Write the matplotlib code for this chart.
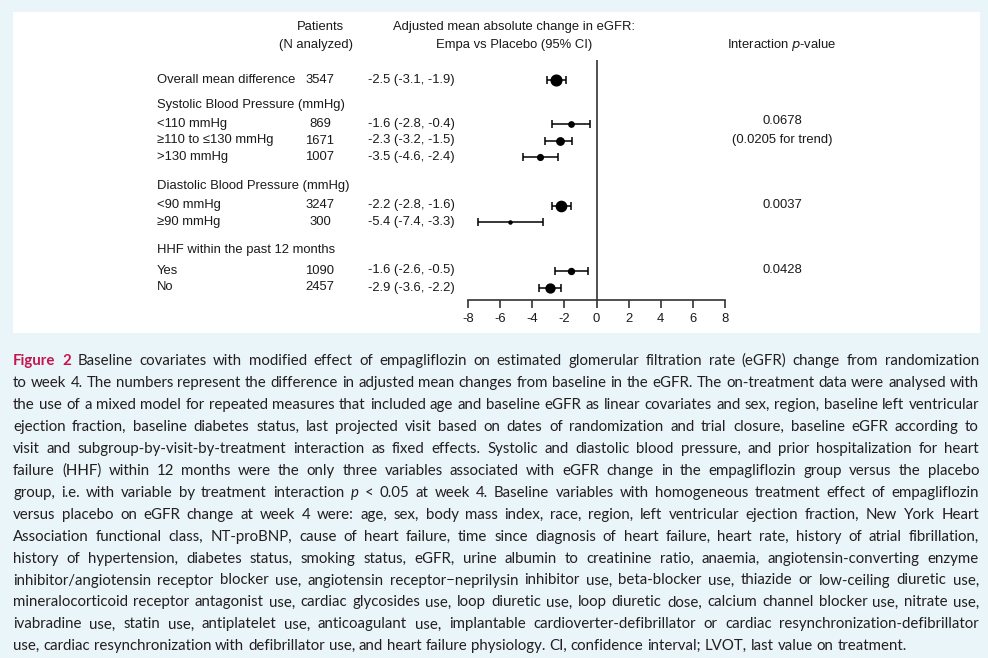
import matplotlib
matplotlib.use("Agg")
import matplotlib.pyplot as plt
from matplotlib.patches import Rectangle
import numpy as np

plt.rcParams["axes.unicode_minus"] = False

# data
row_labels = ["Overall mean difference", "<110 mmHg", "≥110 to ≤130 mmHg", ">130 mmHg",
              "<90 mmHg", "≥90 mmHg", "Yes", "No"]
n_analyzed = [3547, 869, 1671, 1007, 3247, 300, 1090, 2457]
estimate = [-2.5, -1.6, -2.3, -3.5, -2.2, -5.4, -1.6, -2.9]
ci_low = [-3.1, -2.8, -3.2, -4.6, -2.8, -7.4, -2.6, -3.6]
ci_high = [-1.9, -0.4, -1.5, -2.4, -1.6, -3.3, -0.5, -2.2]
group_headers = ["Systolic Blood Pressure (mmHg)", "Diastolic Blood Pressure (mmHg)",
                 "HHF within the past 12 months"]
p_values = ["0.0678", "0.0037", "0.0428"]
trend_note = "(0.0205 for trend)"
xticks = [-8, -6, -4, -2, 0, 2, 4, 6, 8]

caption_lines = [
    "Figure 2 Baseline covariates with modified effect of empagliflozin on estimated glomerular filtration rate (eGFR) change from randomization",
    "to week 4. The numbers represent the difference in adjusted mean changes from baseline in the eGFR. The on-treatment data were analysed with",
    "the use of a mixed model for repeated measures that included age and baseline eGFR as linear covariates and sex, region, baseline left ventricular",
    "ejection fraction, baseline diabetes status, last projected visit based on dates of randomization and trial closure, baseline eGFR according to",
    "visit and subgroup-by-visit-by-treatment interaction as fixed effects. Systolic and diastolic blood pressure, and prior hospitalization for heart",
    "failure (HHF) within 12 months were the only three variables associated with eGFR change in the empagliflozin group versus the placebo",
    "group, i.e. with variable by treatment interaction p < 0.05 at week 4. Baseline variables with homogeneous treatment effect of empagliflozin",
    "versus placebo on eGFR change at week 4 were: age, sex, body mass index, race, region, left ventricular ejection fraction, New York Heart",
    "Association functional class, NT-proBNP, cause of heart failure, time since diagnosis of heart failure, heart rate, history of atrial fibrillation,",
    "history of hypertension, diabetes status, smoking status, eGFR, urine albumin to creatinine ratio, anaemia, angiotensin-converting enzyme",
    "inhibitor/angiotensin receptor blocker use, angiotensin receptor\u2212neprilysin inhibitor use, beta-blocker use, thiazide or low-ceiling diuretic use,",
    "mineralocorticoid receptor antagonist use, cardiac glycosides use, loop diuretic use, loop diuretic dose, calcium channel blocker use, nitrate use,",
    "ivabradine use, statin use, antiplatelet use, anticoagulant use, implantable cardioverter-defibrillator or cardiac resynchronization-defibrillator",
    "use, cardiac resynchronization with defibrillator use, and heart failure physiology. CI, confidence interval; LVOT, last value on treatment.",
]

# layout (pixels from top-left)
W, H = 988, 658
row_y = [80, 124, 140.5, 157, 205.5, 222, 270.5, 287.5]
header_y = [105, 186, 250]
p_y = [121, 205, 270]
txt = "#1a1a1a"
sans = "Liberation Sans"
fs = 9.4


def fx(x):
    return x / W


def fy(y):
    return 1 - y / H


fig = plt.figure(figsize=(W / 100, H / 100), dpi=100, facecolor="#e9f5f9")
fig.patches.append(Rectangle((fx(13), fy(333)), fx(980) - fx(13), fy(12) - fy(333),
                             transform=fig.transFigure, facecolor="white",
                             edgecolor="none", zorder=-1))

# forest plot axes: y in pixels from the top
ax = fig.add_axes([fx(468), fy(300), fx(725) - fx(468), 300 / H])
ax.set_zorder(2)
ax.patch.set_visible(False)
ax.set_xlim(-8, 8)
ax.set_ylim(300, 0)
for s in ["top", "left", "right"]:
    ax.spines[s].set_visible(False)
ax.spines["bottom"].set_linewidth(1.2)
ax.spines["bottom"].set_color("#333333")
ax.set_yticks([])
ax.set_xticks(xticks)
ax.set_xticklabels([str(t) for t in xticks], fontsize=fs, family=sans, color=txt)
ax.tick_params(axis="x", direction="out", length=6, width=1.2, color="#333333", pad=3)
ax.vlines(0, 60, 300, color="#333333", lw=1.2)

for i in range(len(estimate)):
    ms = 0.18 * np.sqrt(n_analyzed[i]) * 0.72
    ax.errorbar(estimate[i], row_y[i],
                xerr=[[estimate[i] - ci_low[i]], [ci_high[i] - estimate[i]]],
                fmt="o", ms=ms, color="black", ecolor="black",
                elinewidth=1.1, capsize=3, capthick=1.1)

# header texts
fig.text(fx(320), fy(27), "Patients", ha="center", va="center", fontsize=fs, family=sans, color=txt)
fig.text(fx(316), fy(45), "(N analyzed)", ha="center", va="center", fontsize=fs, family=sans, color=txt)
fig.text(fx(514), fy(27), "Adjusted mean absolute change in eGFR:", ha="center", va="center",
         fontsize=fs, family=sans, color=txt)
fig.text(fx(514), fy(45), "Empa vs Placebo (95% CI)", ha="center", va="center",
         fontsize=fs, family=sans, color=txt)
fig.text(fx(782), fy(45), "Interaction $\\mathit{p}$-value", ha="center", va="center",
         fontsize=fs, family=sans, color=txt)

for i in range(len(row_labels)):
    fig.text(fx(157), fy(row_y[i]), row_labels[i], ha="left", va="center",
             fontsize=fs, family=sans, color=txt)
    fig.text(fx(320), fy(row_y[i]), str(n_analyzed[i]), ha="center", va="center",
             fontsize=fs, family=sans, color=txt)
    est = f"{estimate[i]:.1f} ({ci_low[i]:.1f}, {ci_high[i]:.1f})"
    fig.text(fx(455), fy(row_y[i]), est, ha="right", va="center",
             fontsize=fs, family=sans, color=txt)

for h, y in zip(group_headers, header_y):
    fig.text(fx(157), fy(y), h, ha="left", va="center", fontsize=fs, family=sans, color=txt)

for p, y in zip(p_values, p_y):
    fig.text(fx(782), fy(y), p, ha="center", va="center", fontsize=fs, family=sans, color=txt)
fig.text(fx(782), fy(139.5), trend_note, ha="center", va="center", fontsize=fs, family=sans, color=txt)

# caption, justified word by word
renderer = fig.canvas.get_renderer()
cap_font = "Lato"
left, right = 13, 979
base_y = 365
line_h = 21.95


def word_style(li, wi, w):
    if li == 0 and wi < 2:
        return dict(fontweight="bold", color="#c4154f")
    if li == 6 and w == "p":
        return dict(style="italic", color="#231f20")
    return dict(color="#231f20")


# fit font size to the widest line
trial = 11.0
widest = 0
for li, line in enumerate(caption_lines):
    t = fig.text(0, 0, line, fontsize=trial, family=cap_font)
    widest = max(widest, t.get_window_extent(renderer).width)
    t.remove()
cap_fs = trial * (right - left - 4) / widest

for li, line in enumerate(caption_lines):
    words = line.split(" ")
    items = []
    for wi, w in enumerate(words):
        t = fig.text(0, fy(base_y + li * line_h), w, fontsize=cap_fs, family=cap_font,
                     ha="left", va="baseline", **word_style(li, wi, w))
        items.append(t)
    widths = [t.get_window_extent(renderer).width for t in items]
    if li < len(caption_lines) - 1:
        gap = (right - left - sum(widths)) / (len(words) - 1)
    else:
        sp = fig.text(0, 0, "a a", fontsize=cap_fs, family=cap_font)
        sp2 = fig.text(0, 0, "aa", fontsize=cap_fs, family=cap_font)
        gap = sp.get_window_extent(renderer).width - sp2.get_window_extent(renderer).width
        sp.remove()
        sp2.remove()
    x = left
    for t, wdt in zip(items, widths):
        t.set_x(fx(x))
        x += wdt + gap

fig.savefig("out.png", dpi=100, facecolor=fig.get_facecolor())
